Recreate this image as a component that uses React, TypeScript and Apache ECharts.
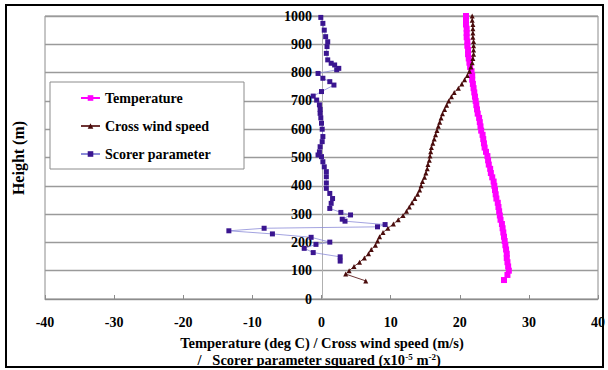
import React, { useEffect, useRef } from "react";
import * as echarts from "echarts";

// Sounding levels (m) shared by temperature and cross wind speed
const levels = [
  100, 115, 130, 145, 160, 175, 190, 205, 220, 235,
  250, 265, 280, 295, 310, 325, 340, 355, 370, 385,
  400, 415, 430, 445, 460, 475, 490, 505, 520, 535,
  550, 565, 580, 595, 610, 625, 640, 655, 670, 685,
  700, 715, 730, 745, 760, 775, 790, 805, 820, 835,
  850, 865, 880, 895, 910, 925, 940, 955, 970, 985,
  1000,
];

// Temperature (deg C)
const tempLowHeights = [67, 85];
const tempLowValues = [26.4, 26.9];
const tempValues = [
  27.1, 27.0, 26.9, 26.8, 26.8, 26.7, 26.6, 26.5, 26.4, 26.3,
  26.2, 26.1, 25.9, 25.8, 25.7, 25.6, 25.5, 25.3, 25.2, 25.1,
  25.0, 24.9, 24.7, 24.5, 24.4, 24.2, 24.1, 24.0, 23.8, 23.6,
  23.5, 23.4, 23.3, 23.1, 23.0, 22.9, 22.8, 22.6, 22.5, 22.4,
  22.3, 22.2, 22.1, 22.0, 21.9, 21.8, 21.8, 21.7, 21.5, 21.4,
  21.3, 21.2, 21.2, 21.1, 21.1, 21.0, 21.0, 21.0, 20.9, 20.9,
  20.9,
];

// Cross wind speed (m/s)
const windLowHeights = [64, 88];
const windLowValues = [6.4, 3.5];
const windValues = [
  4.0, 4.7, 5.5, 6.2, 6.8, 7.2, 7.8, 8.1, 8.4, 8.9,
  9.6, 10.4, 11.1, 11.8, 12.3, 12.7, 13.1, 13.5, 13.9, 14.2,
  14.4, 14.6, 14.9, 15.1, 15.3, 15.4, 15.6, 15.7, 15.8, 15.9,
  16.1, 16.3, 16.5, 16.7, 16.9, 17.1, 17.3, 17.5, 17.8, 18.1,
  18.4, 18.8, 19.2, 19.8, 20.3, 20.7, 21.1, 21.4, 21.6, 21.8,
  21.9, 22.0, 22.0, 22.0, 22.0, 21.9, 21.9, 21.9, 21.9, 21.8,
  21.8,
];

// Scorer parameter squared (x10^-5 m^-2)
const scorerHeights = [
  134, 149, 164, 179, 193, 201, 218, 230, 241, 250,
  255, 263, 275, 282, 297, 306, 320, 338, 355, 373,
  391, 410, 432, 450, 467, 485, 503, 509, 520, 538,
  556, 574, 600, 621, 640, 656, 670, 686, 703, 717,
  733, 756, 768, 780, 797, 810, 815, 827, 833, 845,
  868, 892, 909, 927, 950, 974, 995,
];
const scorerValues = [
  2.7, 2.7, -1.2, -2.5, -0.8, 1.2, -1.5, -7.1, -13.4, -8.3,
  8.1, 9.2, 3.4, 3.0, 4.2, 2.8, 1.2, 1.4, 1.6, 1.2,
  0.7, 0.7, 0.7, 0.7, 0.4, 0.2, 0.0, -0.5, -0.3, -0.2,
  0.1, 0.2, 0.1, 0.0, -0.1, -0.2, -0.2, -0.3, -0.7, -1.2,
  0.0, 1.8, 1.2, 0.2, -0.5, 2.2, 2.5, 1.9, 1.4, 0.9,
  0.7, 0.8, 0.9, 0.6, 0.4, 0.2, -0.1,
];

const seriesNames = ["Temperature", "Cross wind speed", "Scorer parameter"];

const FONT = "'Liberation Serif', 'Times New Roman', serif";

const GRID_LEFT = 45;
const GRID_RIGHT = 9;
const CHART_W = 608;
const X_MIN = -40;
const X_MAX = 40;

function pairs(heights: number[], values: number[]): [number, number][] {
  return heights.map((h, i) => [values[i], h]);
}

export default function App() {
  const ref = useRef<HTMLDivElement>(null);

  useEffect(() => {
    if (!ref.current) return;
    const chart = echarts.init(ref.current, null, { renderer: "svg" });

    const tempData = pairs(tempLowHeights.concat(levels), tempLowValues.concat(tempValues));
    const windData = pairs(windLowHeights.concat(levels), windLowValues.concat(windValues));
    const scorerData = pairs(scorerHeights, scorerValues);

    // shift the height axis so that it stands on x = 0
    const plotW = CHART_W - GRID_LEFT - GRID_RIGHT;
    const zeroOffset = (plotW * (0 - X_MIN)) / (X_MAX - X_MIN);

    chart.setOption({
      animation: false,
      backgroundColor: "#ffffff",
      grid: {
        left: GRID_LEFT,
        right: GRID_RIGHT,
        top: 16,
        bottom: 71,
        show: true,
        borderColor: "#8c8c8c",
        borderWidth: 1,
      },
      xAxis: {
        type: "value",
        min: X_MIN,
        max: X_MAX,
        interval: 10,
        axisLine: { onZero: false, lineStyle: { color: "#8c8c8c", width: 1 } },
        axisTick: { show: true, inside: true, length: 4, lineStyle: { color: "#8c8c8c" } },
        axisLabel: {
          margin: 16,
          color: "#000",
          fontFamily: FONT,
          fontWeight: "bold",
          fontSize: 14,
        },
        splitLine: { show: false },
      },
      yAxis: {
        type: "value",
        min: 0,
        max: 1000,
        interval: 100,
        position: "left",
        offset: -zeroOffset,
        axisLine: { show: true, onZero: false, lineStyle: { color: "#b0b0b0", width: 1 } },
        axisTick: { show: false },
        axisLabel: {
          margin: 10,
          color: "#000",
          fontFamily: FONT,
          fontWeight: "bold",
          fontSize: 14,
          formatter: (v: number) => String(v),
        },
        splitLine: { show: true, lineStyle: { color: "#9a9a9a", width: 1.3 } },
      },
      legend: {
        data: seriesNames,
        orient: "vertical",
        left: 80,
        top: 91,
        padding: 0,
        itemGap: 14,
        itemWidth: 19,
        itemHeight: 7,
        textStyle: {
          color: "#000",
          fontFamily: FONT,
          fontWeight: "bold",
          fontSize: 14,
        },
      },
      graphic: [
        {
          type: "rect",
          z: 3,
          shape: { x: 50, y: 82, width: 194, height: 87 },
          style: { fill: "#ffffff", stroke: "#8c8c8c", lineWidth: 1 },
        },
        {
          type: "rect",
          z: 10,
          shape: { x: 6, y: 5, width: 597, height: 362 },
          style: { fill: "none", stroke: "#000", lineWidth: 2 },
        },
        {
          type: "text",
          z: 10,
          x: 18,
          y: 158,
          rotation: Math.PI / 2,
          style: {
            text: "Height (m)",
            fill: "#000",
            font: `bold 16px ${FONT}`,
            align: "center",
            verticalAlign: "middle",
          },
        },
        {
          type: "text",
          z: 10,
          x: 322,
          y: 343,
          style: {
            text: "Temperature (deg C) / Cross wind speed (m/s)",
            fill: "#000",
            font: `bold 14.5px ${FONT}`,
            align: "center",
            verticalAlign: "middle",
          },
        },
        {
          type: "text",
          z: 10,
          x: 319,
          y: 360,
          style: {
            text: "{n|/   Scorer parameter squared (x10}{s|-5}{n| m}{s|-2}{n|)}",
            align: "center",
            verticalAlign: "middle",
            rich: {
              n: { fill: "#000", fontFamily: FONT, fontWeight: "bold", fontSize: 14.5, lineHeight: 16 },
              s: {
                fill: "#000",
                fontFamily: FONT,
                fontWeight: "bold",
                fontSize: 9,
                lineHeight: 16,
                verticalAlign: "top",
              },
            },
          },
        },
      ],
      series: [
        {
          name: seriesNames[0],
          type: "line",
          data: tempData,
          symbol: "rect",
          symbolSize: 6,
          itemStyle: { color: "#ff00ff" },
          lineStyle: { color: "#ff00ff", width: 1.5 },
          z: 3,
        },
        {
          name: seriesNames[1],
          type: "line",
          data: windData,
          symbol: "triangle",
          symbolSize: 5,
          itemStyle: { color: "#4a0c0c" },
          lineStyle: { color: "#6e3434", width: 1 },
          z: 4,
        },
        {
          name: seriesNames[2],
          type: "line",
          data: scorerData,
          symbol: "rect",
          symbolSize: 5,
          itemStyle: { color: "#3a1590" },
          lineStyle: { color: "#8c8cd8", width: 0.8 },
          z: 5,
        },
      ],
    });

    return () => chart.dispose();
  }, []);

  return (
    <div
      ref={ref}
      style={{ position: "fixed", left: 0, top: 0, width: 608, height: 370, background: "#fff" }}
    />
  );
}
